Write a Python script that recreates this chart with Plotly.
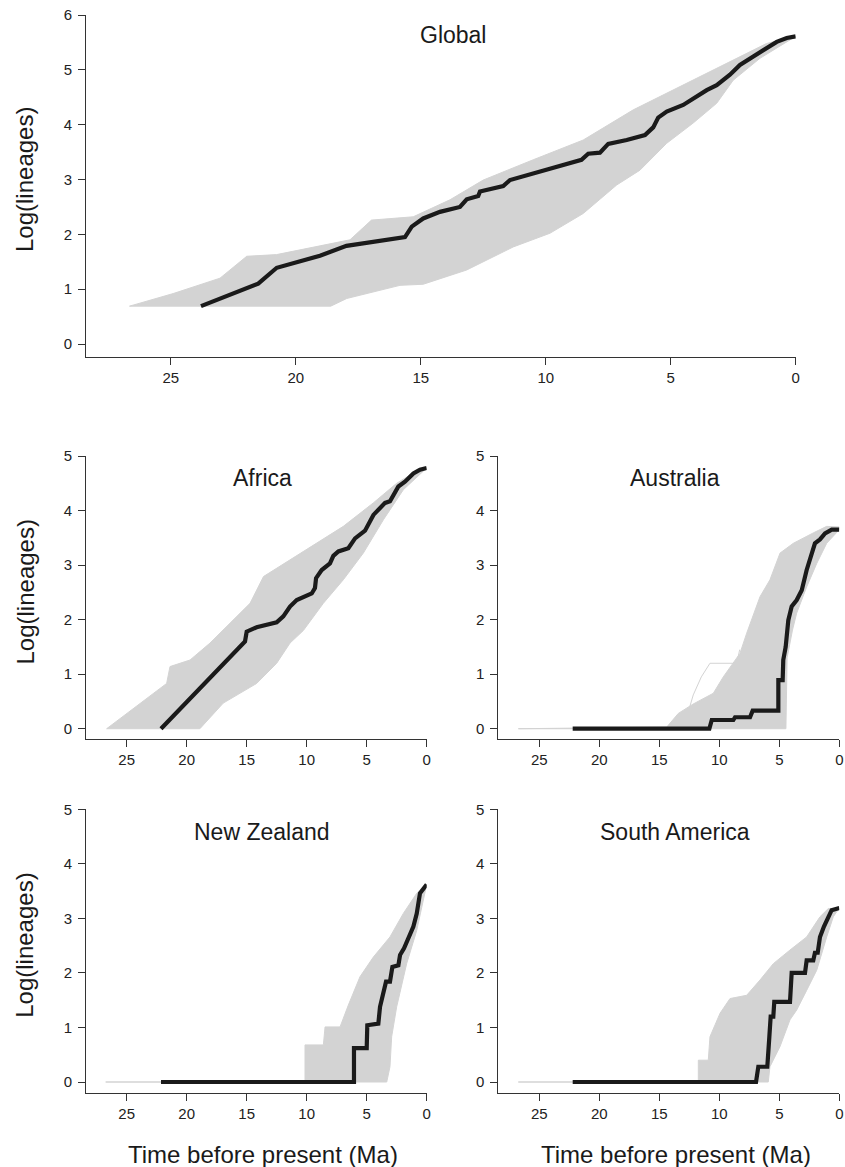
import plotly.graph_objects as go

# ---------------- data (time before present in Ma, log lineages) ----------------
# Global
global_obs_t = [23.79, 21.5, 20.76, 19.03, 17.97, 15.63, 15.36, 14.9, 14.23, 13.43, 13.16, 12.7, 12.63, 11.7,
                11.43, 10.23, 9.43, 9.03, 8.57, 8.3, 7.83, 7.5, 6.76, 6.03, 5.7, 5.5, 5.16, 4.5, 4.1, 3.56,
                3.16, 2.63, 2.23, 1.7, 1.16, 0.76, 0.36, 0.0]
global_obs_y = [0.69, 1.10, 1.39, 1.61, 1.79, 1.95, 2.14, 2.29, 2.41, 2.50, 2.64, 2.70, 2.78, 2.88,
                2.99, 3.14, 3.25, 3.30, 3.36, 3.47, 3.49, 3.65, 3.72, 3.81, 3.95, 4.13, 4.24, 4.36, 4.48, 4.63,
                4.72, 4.91, 5.09, 5.24, 5.39, 5.51, 5.58, 5.61]
global_up_t = [26.65, 24.9, 23.03, 21.96, 20.77, 17.83, 16.97, 15.3, 13.83, 12.5, 10.5, 8.5, 6.5, 4.5, 2.5, 1.17, 0.0]
global_up_y = [0.69, 0.92, 1.20, 1.60, 1.63, 1.90, 2.26, 2.32, 2.63, 2.99, 3.36, 3.72, 4.27, 4.72, 5.18, 5.48, 5.61]
global_lo_t = [26.65, 18.6, 17.96, 15.83, 14.9, 13.16, 11.3, 9.83, 8.5, 7.16, 6.23, 5.16, 4.1, 3.16, 2.5, 1.43, 0.0]
global_lo_y = [0.69, 0.69, 0.83, 1.07, 1.09, 1.35, 1.77, 2.02, 2.38, 2.90, 3.17, 3.66, 4.03, 4.39, 4.81, 5.21, 5.61]

# Africa
africa_obs_t = [22.14, 15.14, 15.0, 14.17, 12.5, 11.95, 11.39, 10.83, 9.58, 9.31, 9.22, 8.75, 8.06, 7.78, 7.36,
                6.53, 5.97, 5.14, 4.44, 3.47, 3.06, 2.36, 1.81, 1.11, 0.56, 0.0]
africa_obs_y = [0.0, 1.60, 1.78, 1.86, 1.95, 2.06, 2.24, 2.36, 2.48, 2.58, 2.76, 2.91, 3.03, 3.17, 3.25,
                3.31, 3.49, 3.63, 3.92, 4.14, 4.17, 4.44, 4.53, 4.68, 4.75, 4.78]
africa_up_t = [26.67, 21.67, 21.39, 19.72, 18.06, 16.39, 14.72, 13.6, 11.39, 9.17, 6.95, 4.45, 2.5, 1.11, 0.0]
africa_up_y = [0.0, 0.83, 1.14, 1.26, 1.57, 1.93, 2.30, 2.79, 3.10, 3.40, 3.71, 4.14, 4.50, 4.69, 4.78]
africa_lo_t = [26.67, 18.9, 16.95, 14.17, 12.5, 11.39, 10.28, 8.61, 6.95, 5.28, 3.61, 1.95, 0.0]
africa_lo_y = [0.0, 0.0, 0.47, 0.83, 1.20, 1.57, 1.80, 2.30, 2.73, 3.22, 3.83, 4.38, 4.78]

# Australia
austr_obs_t = [22.22, 10.83, 10.63, 8.83, 8.69, 7.44, 7.22, 5.08, 5.08, 4.72, 4.67, 4.47, 4.25, 3.97, 3.55,
               3.13, 2.72, 2.39, 2.03, 1.61, 1.19, 0.63, 0.0]
austr_obs_y = [0.0, 0.0, 0.16, 0.16, 0.21, 0.21, 0.33, 0.33, 0.89, 0.89, 1.26, 1.5, 1.99, 2.24, 2.36,
               2.54, 2.91, 3.16, 3.40, 3.47, 3.58, 3.65, 3.65]
austr_up_t = [26.75, 14.38, 13.42, 12.2, 10.5, 9.67, 8.28, 7.72, 6.61, 5.78, 4.94, 3.83, 2.17, 1.05, 0.0]
austr_up_y = [0.0, 0.03, 0.28, 0.45, 0.65, 0.95, 1.38, 1.75, 2.42, 2.73, 3.22, 3.40, 3.59, 3.71, 3.70]
austr_lo_t = [26.75, 4.45, 4.35, 3.9, 3.55, 2.72, 1.88, 1.05, 0.0]
austr_lo_y = [0.0, 0.0, 1.30, 1.81, 2.12, 2.60, 3.03, 3.40, 3.65]
austr_outlier_t = [12.6, 12.17, 11.5, 10.78, 8.55, 8.3]
austr_outlier_y = [0.30, 0.62, 0.95, 1.20, 1.20, 1.45]

# New Zealand
nz_obs_t = [22.14, 6.06, 6.06, 5.0, 4.95, 4.03, 3.89, 3.67, 3.39, 3.06, 2.86, 2.36, 2.22, 1.89, 1.53,
            1.11, 0.83, 0.56, 0.0]
nz_obs_y = [0.0, 0.0, 0.62, 0.62, 1.04, 1.07, 1.38, 1.59, 1.84, 1.84, 2.11, 2.14, 2.33, 2.45, 2.63,
            2.85, 3.09, 3.46, 3.62]
nz_up_t = [26.75, 10.14, 10.14, 8.61, 8.47, 7.22, 6.53, 5.56, 4.45, 3.06, 1.95, 0.83, 0.14, 0.0]
nz_up_y = [0.0, 0.0, 0.68, 0.68, 1.01, 1.01, 1.41, 1.93, 2.29, 2.66, 3.09, 3.46, 3.62, 3.62]
nz_lo_t = [26.75, 3.33, 3.06, 2.92, 2.5, 1.67, 0.83, 0.0]
nz_lo_y = [0.0, 0.0, 0.28, 0.83, 1.38, 2.17, 2.78, 3.62]

# South America
sa_obs_t = [22.22, 6.94, 6.75, 6.0, 5.83, 5.72, 5.5, 5.42, 4.11, 3.97, 2.86, 2.72, 2.17, 2.03, 1.8,
            1.61, 1.28, 0.92, 0.64, 0.0]
sa_obs_y = [0.0, 0.0, 0.28, 0.28, 0.83, 1.2, 1.2, 1.47, 1.47, 2.0, 2.0, 2.23, 2.23, 2.37, 2.37,
            2.66, 2.85, 3.03, 3.15, 3.19]
sa_up_t = [26.75, 11.75, 11.75, 10.92, 10.78, 9.94, 9.11, 7.72, 6.61, 5.5, 4.11, 2.72, 1.61, 0.92, 0.0]
sa_up_y = [0.0, 0.0, 0.40, 0.40, 0.83, 1.26, 1.53, 1.59, 1.87, 2.17, 2.42, 2.66, 3.03, 3.18, 3.19]
sa_lo_t = [26.75, 5.92, 5.78, 4.94, 4.11, 3.55, 2.72, 1.88, 1.05, 0.5, 0.0]
sa_lo_y = [0.0, 0.0, 0.28, 0.65, 1.14, 1.32, 1.68, 2.05, 2.66, 3.03, 3.19]

panel_titles = ["Global", "Africa", "Australia", "New Zealand", "South America"]
x_ticks = [0, 5, 10, 15, 20, 25]
x_title = "Time before present (Ma)"
y_title = "Log(lineages)"

# ---------------- figure ----------------
W, H = 845, 1167
FONT = "Liberation Sans, Arial, sans-serif"
GREY = "#d3d3d3"
BLACK = "#1a1a1a"
AXC = "#333333"


def px_x(p):
    return p / W


def px_y(p):
    return 1 - p / H


panels = [
    ("", (86, 795.7), (15, 357), [28.39, 0], [-0.237, 6], [0, 1, 2, 3, 4, 5, 6],
     (global_obs_t, global_obs_y, global_up_t, global_up_y, global_lo_t, global_lo_y), 5.64),
    ("2", (86, 426.7), (456, 739.3), [28.39, 0], [-0.194, 5], [0, 1, 2, 3, 4, 5],
     (africa_obs_t, africa_obs_y, africa_up_t, africa_up_y, africa_lo_t, africa_lo_y), 4.59),
    ("3", (498.3, 839.3), (456, 739.3), [28.42, 0], [-0.194, 5], [0, 1, 2, 3, 4, 5],
     (austr_obs_t, austr_obs_y, austr_up_t, austr_up_y, austr_lo_t, austr_lo_y), 4.59),
    ("4", (86, 426.7), (809.3, 1092.7), [28.39, 0], [-0.196, 5], [0, 1, 2, 3, 4, 5],
     (nz_obs_t, nz_obs_y, nz_up_t, nz_up_y, nz_lo_t, nz_lo_y), 4.59),
    ("5", (498.3, 839.3), (809.3, 1092.7), [28.42, 0], [-0.196, 5], [0, 1, 2, 3, 4, 5],
     (sa_obs_t, sa_obs_y, sa_up_t, sa_up_y, sa_lo_t, sa_lo_y), 4.59),
]

fig = go.Figure()
layout = dict(
    template="none",
    width=W, height=H, margin=dict(l=0, r=0, t=0, b=0, pad=0), autosize=False,
    paper_bgcolor="white", plot_bgcolor="white", showlegend=False,
    font=dict(family=FONT, color="#222222"),
)
annotations = []

for (sid, dx, dy, xr, yr, yt, data, ty), name in zip(panels, panel_titles):
    obs_t, obs_y, up_t, up_y, lo_t, lo_y = data
    xa = "x" + sid
    ya = "y" + sid
    # envelope of simulated lineage-through-time curves
    fig.add_trace(go.Scatter(
        x=up_t + lo_t[::-1], y=up_y + lo_y[::-1], xaxis=xa, yaxis=ya,
        mode="lines", fill="toself", fillcolor=GREY,
        line=dict(color=GREY, width=1), hoverinfo="skip"))
    if sid == "3":
        fig.add_trace(go.Scatter(
            x=austr_outlier_t, y=austr_outlier_y, xaxis=xa, yaxis=ya, mode="lines",
            line=dict(color=GREY, width=1), hoverinfo="skip"))
    # observed LTT
    fig.add_trace(go.Scatter(
        x=obs_t, y=obs_y, xaxis=xa, yaxis=ya, mode="lines",
        line=dict(color=BLACK, width=4.2), hoverinfo="skip"))
    axcommon = dict(showline=True, linecolor=AXC, linewidth=1, ticks="outside", ticklen=7,
                    tickcolor=AXC, tickwidth=1, showgrid=False, zeroline=False,
                    automargin=False, ticklabeloverflow="allow",
                    tickfont=dict(family=FONT, size=15, color="#222222"))
    layout["xaxis" + sid] = dict(domain=[px_x(dx[0]), px_x(dx[1])], range=xr, anchor=ya,
                                 tickmode="array", tickvals=x_ticks,
                                 ticktext=[str(v) for v in x_ticks], **axcommon)
    layout["yaxis" + sid] = dict(domain=[px_y(dy[1]), px_y(dy[0])], range=yr, anchor=xa,
                                 tickmode="array", tickvals=yt, ticklabelstandoff=3,
                                 ticktext=[str(v) for v in yt], **axcommon)
    annotations.append(dict(text=name, x=13.7, y=ty, xref=xa, yref=ya, showarrow=False,
                            xanchor="center", yanchor="middle",
                            font=dict(family=FONT, size=23, color="#1a1a1a")))

# y axis titles (left column)
for yc in [180, 592.5, 945.8]:
    annotations.append(dict(text=y_title, x=px_x(25), y=px_y(yc), xref="paper", yref="paper",
                            showarrow=False, textangle=-90, xanchor="center", yanchor="middle",
                            font=dict(family=FONT, size=24, color="#1a1a1a")))
# x axis titles (bottom row)
for xc in [263, 675.8]:
    annotations.append(dict(text=x_title, x=px_x(xc), y=px_y(1154), xref="paper", yref="paper",
                            showarrow=False, xanchor="center", yanchor="middle",
                            font=dict(family=FONT, size=24, color="#1a1a1a")))

layout["annotations"] = annotations
fig.update_layout(**layout)
fig.write_html("out.html", config={"displayModeBar": False},
               post_script="document.body.style.margin='0';document.documentElement.style.margin='0';"
                           "document.body.style.overflow='hidden';")
